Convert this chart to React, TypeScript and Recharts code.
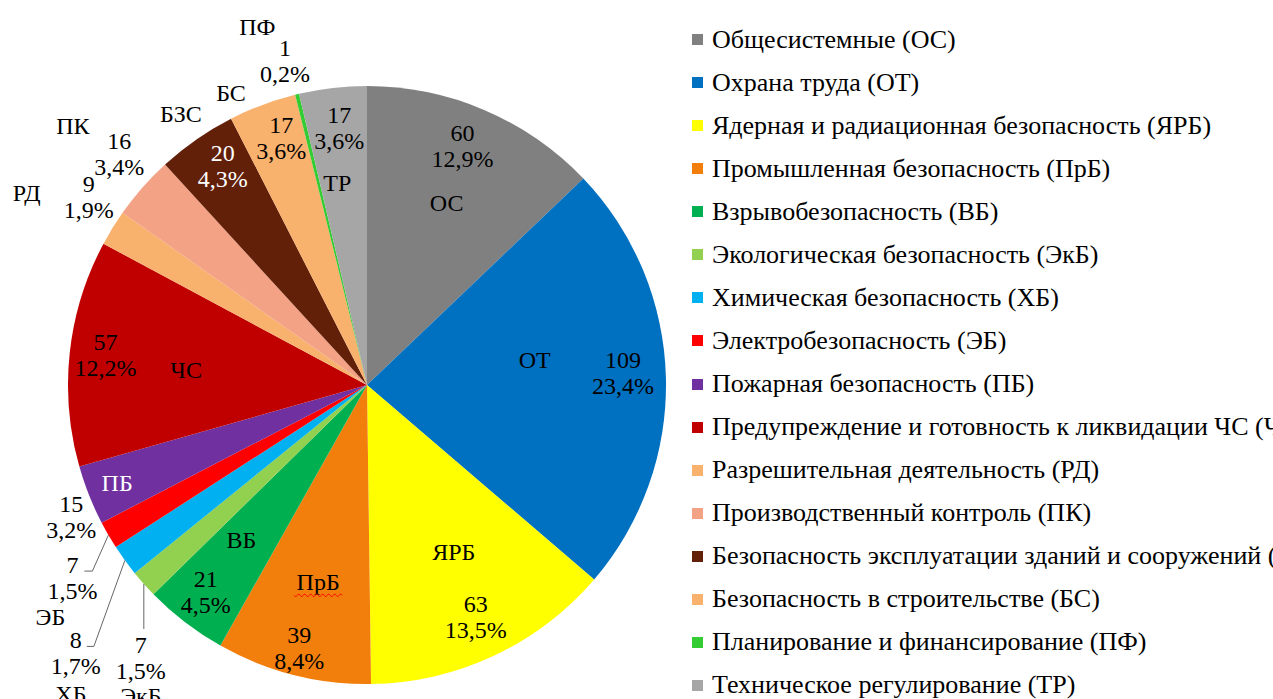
import React from "react";
import { PieChart, Pie, Cell, Legend } from "recharts";

const shortNames = ["ОС", "ОТ", "ЯРБ", "ПрБ", "ВБ", "ЭкБ", "ХБ", "ЭБ", "ПБ", "ЧС", "РД", "ПК", "БЗС", "БС", "ПФ", "ТР"];

const fullNames = [
  "Общесистемные (ОС)",
  "Охрана труда (ОТ)",
  "Ядерная и радиационная безопасность (ЯРБ)",
  "Промышленная безопасность (ПрБ)",
  "Взрывобезопасность (ВБ)",
  "Экологическая безопасность (ЭкБ)",
  "Химическая безопасность (ХБ)",
  "Электробезопасность (ЭБ)",
  "Пожарная безопасность (ПБ)",
  "Предупреждение и готовность к ликвидации ЧС (ЧС)",
  "Разрешительная деятельность (РД)",
  "Производственный контроль (ПК)",
  "Безопасность эксплуатации зданий и сооружений (БЗС)",
  "Безопасность в строительстве (БС)",
  "Планирование и финансирование (ПФ)",
  "Техническое регулирование (ТР)",
];

const counts = [60, 109, 63, 39, 21, 7, 8, 7, 15, 57, 9, 16, 20, 17, 1, 17];

const colors = [
  "#808080", "#0070C0", "#FFFF00", "#F27F0C", "#00B050", "#92D050", "#00B0F0", "#FF0000",
  "#7030A0", "#C00000", "#F9B16E", "#F3A285", "#622009", "#F9B16E", "#33CC33", "#A6A6A6",
];

const total = counts.reduce((a, b) => a + b, 0);
const data = shortNames.map((s, i) => ({ short: s, name: fullNames[i], value: counts[i] }));

const FONT = '"Liberation Serif", serif';
const LABEL_SIZE = 24;
const LINE = 26;

// where each label sits: [radius as a share of the outer radius, angle shift in degrees]
const placement: Record<string, { val: [number, number]; name: [number, number] }> = {
  "ОС": { val: [0.86, -1.4], name: [0.663, 0.5] },
  "ОТ": { val: [0.857, -1.2], name: [0.567, -7] },
  "ЯРБ": { val: [0.857, 0], name: [0.63, -2.3] },
  "ПрБ": { val: [0.907, 0.2], name: [0.68, -0.4] },
  "ВБ": { val: [0.877, 0.5], name: [0.667, 1.6] },
  "ПБ": { val: [1.083, -2.4], name: [0.897, 0.3] },
  "ЧС": { val: [0.88, 0.3], name: [0.607, -1.5] },
  "РД": { val: [1.123, 2.4], name: [1.307, -2.2] },
  "ПК": { val: [1.133, 1.7], name: [1.31, 0] },
  "БЗС": { val: [0.877, 1.4], name: [1.1, 0.3] },
  "БС": { val: [0.873, 1.3], name: [1.077, -4.5] },
  "ПФ": { val: [1.117, -0.7], name: [1.253, -3.5] },
  "ТР": { val: [0.865, 0.4], name: [0.683, -1.8] },
};

// small slices with a leader line, offsets in px from the slice edge
const leaders: Record<string, { bend: [number, number]; tail: number; val: [number, number]; name: [number, number] }> = {
  "ЭкБ": { bend: [0, 45], tail: 0, val: [-3, 74], name: [-3, 112] },
  "ХБ": { bend: [-31, 86], tail: -7, val: [-49, 93], name: [-54, 134] },
  "ЭБ": { bend: [-16, 36], tail: -8, val: [-36, 43], name: [-58, 82] },
};

const whiteValue = ["БЗС"];
const whiteName = ["ПБ"];
// the source had a spell-check squiggle under this one
const squiggled = ["ПрБ"];

function polar(cx: number, cy: number, r: number, clock: number) {
  const a = (clock * Math.PI) / 180;
  return [cx + r * Math.sin(a), cy - r * Math.cos(a)];
}

function txt(x: number, y: number, s: string, fill: string, key: string) {
  return (
    <text key={key} x={x} y={y} textAnchor="middle" dominantBaseline="central"
      style={{ fontFamily: FONT, fontSize: LABEL_SIZE }} fill={fill}>
      {s}
    </text>
  );
}

function squiggle(x: number, y: number, w: number) {
  let d = `M${x - w / 2},${y}`;
  for (let k = 0; k * 3 < w; k++) {
    d += ` l1.5,${k % 2 ? -1.5 : 1.5} l1.5,${k % 2 ? 1.5 : -1.5}`;
  }
  return <path d={d} fill="none" stroke="#FF0000" strokeWidth={1} />;
}

function renderLabel(props: any) {
  const { cx, cy, midAngle, outerRadius, index, value } = props;
  const s = shortNames[index];
  const clock = 90 - midAngle;
  const pct = ((value / total) * 100).toFixed(1).replace(".", ",");
  const vFill = whiteValue.includes(s) ? "#fff" : "#000";
  const nFill = whiteName.includes(s) ? "#fff" : "#000";

  const ld = leaders[s];
  if (ld) {
    const [ex, ey] = polar(cx, cy, outerRadius, clock);
    const bx = ex + ld.bend[0];
    const by = ey + ld.bend[1];
    const pts = `${ex},${ey} ${bx},${by} ${bx + ld.tail},${by}`;
    const vx = ex + ld.val[0];
    const vy = ey + ld.val[1];
    return (
      <g>
        <polyline points={pts} fill="none" stroke="#666" strokeWidth={1} />
        {txt(vx, vy - LINE / 2, String(value), "#000", "v")}
        {txt(vx, vy + LINE / 2, pct + "%", "#000", "p")}
        {txt(ex + ld.name[0], ey + ld.name[1], s, "#000", "n")}
      </g>
    );
  }

  const p = placement[s];
  const [vx, vy] = polar(cx, cy, outerRadius * p.val[0], clock + p.val[1]);
  const [nx, ny] = polar(cx, cy, outerRadius * p.name[0], clock + p.name[1]);
  return (
    <g>
      {txt(vx, vy - LINE / 2, String(value), vFill, "v")}
      {txt(vx, vy + LINE / 2, pct + "%", vFill, "p")}
      {txt(nx, ny, s, nFill, "n")}
      {squiggled.includes(s) && squiggle(nx, ny + 13, 48)}
    </g>
  );
}

// legend kept in the data order (not sorted)
function renderLegend() {
  return (
    <div style={{ fontFamily: FONT, fontSize: 26, color: "#000", whiteSpace: "nowrap" }}>
      {fullNames.map((n, i) => (
        <div key={n} style={{ height: 43.07, display: "flex", alignItems: "center" }}>
          <span style={{ width: 11, height: 11, background: colors[i], display: "inline-block", marginRight: 9, flexShrink: 0 }} />
          <span>{n}</span>
        </div>
      ))}
    </div>
  );
}

export default function App() {
  return (
    <div style={{ position: "absolute", left: 0, top: 0, width: 1273, height: 699, overflow: "hidden", background: "#fff", fontFamily: FONT }}>
      <PieChart width={1273} height={699} margin={{ top: 0, right: 0, bottom: 0, left: 0 }}>
        <Pie
          data={data}
          dataKey="value"
          nameKey="name"
          cx={367}
          cy={385}
          outerRadius={299}
          startAngle={90}
          endAngle={-270}
          stroke="none"
          label={renderLabel}
          labelLine={false}
          isAnimationActive={false}
        >
          {data.map((d, i) => (
            <Cell key={d.short} fill={colors[i]} />
          ))}
        </Pie>
        <Legend
          layout="horizontal"
          verticalAlign="bottom"
          align="center"
          content={renderLegend}
          wrapperStyle={{ position: "absolute", left: 692, top: 18, bottom: "auto", width: 700, height: 690 }}
        />
      </PieChart>
    </div>
  );
}
